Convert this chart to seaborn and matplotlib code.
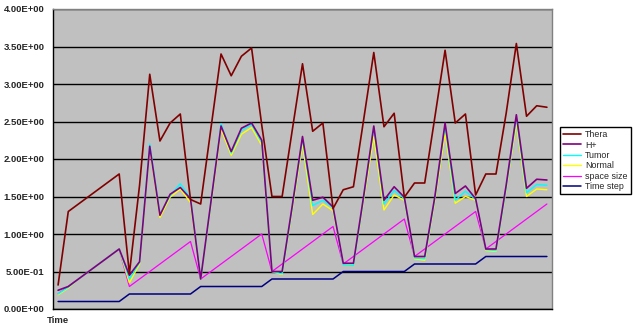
import matplotlib
matplotlib.use("Agg")
import matplotlib.pyplot as plt
from matplotlib.ticker import FixedLocator, FuncFormatter
import seaborn as sns

# one value per time point (49 points)
steps = list(range(49))

thera = [0.32, 1.30, 1.40, 1.50, 1.60, 1.70, 1.80, 0.47, 1.65, 3.13,
         2.24, 2.48, 2.60, 1.46, 1.40, 2.40, 3.40, 3.11, 3.37, 3.48,
         2.45, 1.50, 1.50, 2.39, 3.27, 2.37, 2.48, 1.34, 1.59, 1.63,
         2.52, 3.42, 2.43, 2.61, 1.49, 1.68, 1.68, 2.56, 3.45, 2.48,
         2.60, 1.52, 1.80, 1.80, 2.61, 3.54, 2.57, 2.71, 2.69]
h_plus = [0.25, 0.30, 0.40, 0.50, 0.60, 0.70, 0.80, 0.45, 0.63, 2.17,
          1.25, 1.53, 1.62, 1.47, 0.40, 1.42, 2.44, 2.10, 2.41, 2.48,
          2.25, 0.50, 0.50, 1.38, 2.30, 1.45, 1.49, 1.36, 0.61, 0.61,
          1.50, 2.44, 1.45, 1.63, 1.49, 0.70, 0.70, 1.50, 2.48, 1.54,
          1.64, 1.47, 0.80, 0.80, 1.65, 2.59, 1.61, 1.73, 1.72]
tumor = [0.20, 0.29, 0.40, 0.50, 0.60, 0.70, 0.80, 0.40, 0.62, 2.20,
         1.26, 1.51, 1.67, 1.48, 0.40, 1.40, 2.47, 2.08, 2.38, 2.46,
         2.22, 0.50, 0.47, 1.36, 2.27, 1.38, 1.45, 1.35, 0.59, 0.58,
         1.48, 2.42, 1.40, 1.58, 1.47, 0.68, 0.67, 1.48, 2.45, 1.45,
         1.57, 1.46, 0.79, 0.78, 1.62, 2.55, 1.55, 1.66, 1.65]
normal = [0.19, 0.28, 0.40, 0.50, 0.60, 0.70, 0.80, 0.35, 0.60, 2.15,
          1.22, 1.49, 1.60, 1.42, 0.40, 1.38, 2.40, 2.05, 2.33, 2.42,
          2.18, 0.50, 0.46, 1.33, 2.20, 1.26, 1.40, 1.31, 0.60, 0.58,
          1.45, 2.30, 1.32, 1.52, 1.45, 0.67, 0.65, 1.45, 2.35, 1.41,
          1.50, 1.45, 0.78, 0.77, 1.60, 2.48, 1.50, 1.60, 1.59]
space_size = [0.2, 0.3, 0.4, 0.5, 0.6, 0.7, 0.8,
              0.3, 0.4, 0.5, 0.6, 0.7, 0.8, 0.9,
              0.4, 0.5, 0.6, 0.7, 0.8, 0.9, 1.0,
              0.5, 0.6, 0.7, 0.8, 0.9, 1.0, 1.1,
              0.6, 0.7, 0.8, 0.9, 1.0, 1.1, 1.2,
              0.7, 0.8, 0.9, 1.0, 1.1, 1.2, 1.3,
              0.8, 0.9, 1.0, 1.1, 1.2, 1.3, 1.4]
time_step = [0.1] * 7 + [0.2] * 7 + [0.3] * 7 + [0.4] * 7 + [0.5] * 7 + [0.6] * 7 + [0.7] * 7

names = ["Thera", "H+", "Tumor", "Normal", "space size", "Time step"]
values = [thera, h_plus, tumor, normal, space_size, time_step]
colors = ["#800000", "#800080", "#00ffff", "#ffff00", "#ff00ff", "#000080"]
widths = [1.2, 1.2, 1.0, 1.0, 0.9, 1.1]

sns.set_style("white")
plt.rcParams["font.family"] = ["Liberation Sans", "DejaVu Sans"]

fig = plt.figure(figsize=(6.42, 3.28), dpi=100)
ax = fig.add_axes([53 / 642, 19 / 328, 499 / 642, 300 / 328])
ax.set_facecolor("#c0c0c0")

for i, (name, vals, c, w) in enumerate(zip(names, values, colors, widths)):
    sns.lineplot(x=steps, y=vals, color=c, lw=w, label=name, ax=ax, zorder=10 - i)

ax.set_xlim(-0.5, 48.5)
ax.set_ylim(0, 4)
ax.yaxis.set_major_locator(FixedLocator([k * 0.5 for k in range(9)]))
ax.yaxis.set_major_formatter(FuncFormatter(lambda v, p: "%.2E" % v))
ax.xaxis.set_major_locator(FixedLocator([k - 0.5 for k in range(50)]))
ax.set_xticklabels([])
ax.grid(axis="y", color="black", lw=1.0)
ax.set_axisbelow(True)
ax.tick_params(axis="both", direction="out", length=4, width=0.8, color="black",
               labelsize=6.8, pad=2)
for lbl in ax.get_yticklabels():
    lbl.set_fontweight("bold")

for s in ["left", "bottom"]:
    ax.spines[s].set_color("black")
    ax.spines[s].set_linewidth(1.0)
for s in ["top", "right"]:
    ax.spines[s].set_color("#808080")
    ax.spines[s].set_linewidth(1.0)

ax.set_xlabel("")
ax.set_ylabel("")
ax.annotate("Time", xy=(0, 0), xycoords=("data", "axes fraction"),
            xytext=(0, -5), textcoords="offset points", ha="center", va="top",
            fontsize=6.8, fontweight="bold")

leg = ax.legend(loc="upper left", bbox_to_anchor=(560 / 642, 1 - 127 / 328),
                bbox_transform=fig.transFigure, frameon=True, fancybox=False,
                edgecolor="black", fontsize=6.4, handlelength=2.0, borderpad=0.35,
                labelspacing=0.16, handletextpad=0.5, borderaxespad=0)
leg.get_frame().set_linewidth(1.0)
leg.get_frame().set_facecolor("white")
leg.get_frame().set_alpha(1)

fig.savefig("out.png", dpi=100)
